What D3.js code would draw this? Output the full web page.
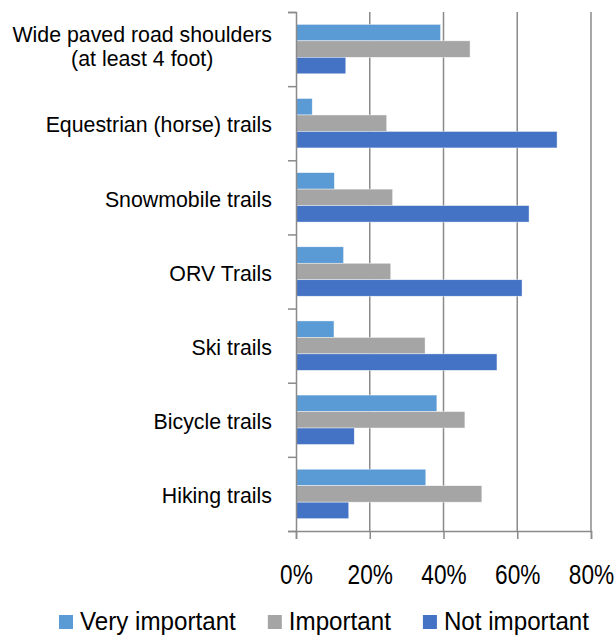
<html>
<head>
	<script src="https://d3js.org/d3.v7.min.js" charset="utf-8"></script>
	<style type="text/css">
		body { margin: 0; background: #fff; }
		text { font-family: "Liberation Sans", Arial, sans-serif; fill: #000; }
	</style>
</head>
<body>
	<div id="chart"></div>
	<script>
		var categories = ["Wide paved road shoulders|(at least 4 foot)", "Equestrian (horse) trails", "Snowmobile trails",
			"ORV Trails", "Ski trails", "Bicycle trails", "Hiking trails"];
		var seriesNames = ["Very important", "Important", "Not important"];
		var veryImportant = [39.2, 4.4, 10.4, 12.9, 10.3, 38.2, 35.2];
		var important = [47.2, 24.6, 26.2, 25.7, 35.0, 45.8, 50.4];
		var notImportant = [13.5, 70.8, 63.2, 61.3, 54.5, 15.8, 14.3];
		var tickValues = [0, 20, 40, 60, 80];
		var colors = ["#5b9bd5", "#a5a5a5", "#4472c4"];

		var series = [veryImportant, important, notImportant];

		var margin = { top: 12, left: 296, right: 24, bottom: 105 };
		var width = 615 - margin.left - margin.right;
		var height = 636 - margin.top - margin.bottom;

		var svg = d3.select('#chart').append('svg')
			.attr('width', 615)
			.attr('height', 636);

		var g = svg.append('g')
			.attr('transform', 'translate(' + margin.left + ',' + margin.top + ')');

		// scales
		var xScale = d3.scaleLinear().domain([0, 80]).range([0, width]);
		var yScale = d3.scaleBand().domain(d3.range(categories.length)).range([0, height]);
		var barH = yScale.bandwidth() / 4.5;
		var inner = d3.scaleBand().domain(d3.range(series.length))
			.range([barH * 0.75, barH * 3.75]);

		// gridlines
		g.selectAll('.grid').data(tickValues.slice(1)).enter().append('line')
			.attr('x1', function(d){ return xScale(d); })
			.attr('x2', function(d){ return xScale(d); })
			.attr('y1', 0).attr('y2', height)
			.style('stroke', '#8a8a8a').style('stroke-width', 1.5);

		// bars
		series.forEach(function(vals, s){
			g.selectAll('.bar' + s).data(vals).enter().append('rect')
				.attr('x', 0)
				.attr('y', function(d, i){ return yScale(i) + inner(s); })
				.attr('width', function(d){ return xScale(d); })
				.attr('height', inner.bandwidth())
				.style('fill', colors[s])
				.style('stroke', '#ffffff').style('stroke-width', 0.6).style('stroke-opacity', 0.7);
		});

		// x axis
		var xAxis = d3.axisBottom(xScale)
			.tickValues(tickValues)
			.tickSize(8)
			.tickPadding(26)
			.tickFormat(function(d){ return d + '%'; });
		var xGuide = g.append('g').attr('transform', 'translate(0,' + height + ')').call(xAxis);
		xGuide.select('.domain').style('stroke', '#8a8a8a').style('stroke-width', 1.5);
		xGuide.selectAll('line').style('stroke', '#8a8a8a').style('stroke-width', 1.5);
		xGuide.selectAll('text')
			.style('font-size', '27px')
			.style('font-family', '"Liberation Sans", Arial, sans-serif')
			.style('fill', '#000')
			.attr('transform', 'scale(0.84,1)');

		// y axis with ticks at band boundaries
		var yAxisLine = d3.scaleLinear().domain([0, categories.length]).range([0, height]);
		var yGuide = g.append('g').call(d3.axisLeft(yAxisLine).ticks(categories.length).tickSize(8).tickFormat(''));
		yGuide.select('.domain').style('stroke', '#8a8a8a').style('stroke-width', 1.5);
		yGuide.selectAll('line').style('stroke', '#8a8a8a').style('stroke-width', 1.5);

		// category labels
		var labelRight = -24;
		categories.forEach(function(c, i){
			var lines = c.split('|');
			var cy = yScale(i) + yScale.bandwidth() / 2;
			var t = g.append('text')
				.style('font-size', '22px')
				.attr('transform', 'translate(' + labelRight + ',0) scale(0.97,1)');
			if (lines.length === 1) {
				t.attr('text-anchor', 'end').attr('y', cy).attr('dy', '0.42em').text(lines[0]);
			} else {
				var tmp = t.append('tspan').text(lines[0]);
				var w = tmp.node().getComputedTextLength();
				tmp.remove();
				t.attr('text-anchor', 'middle');
				lines.forEach(function(l, k){
					t.append('tspan').attr('x', -w / 2)
						.attr('y', cy - 7 + k * 24)
						.text(l);
				});
			}
		});

		// legend
		var legend = svg.append('g').attr('transform', 'translate(59,615)');
		var lx = 0;
		seriesNames.forEach(function(name, s){
			var item = legend.append('g').attr('transform', 'translate(' + lx + ',0)');
			item.append('rect').attr('width', 14).attr('height', 14).style('fill', colors[s]);
			var txt = item.append('text')
				.attr('x', 21 / 0.93).attr('y', 15)
				.attr('transform', 'scale(0.93,1)')
				.style('font-size', '26px')
				.text(name);
			lx += 21 + txt.node().getComputedTextLength() * 0.93 + 32;
		});
	</script>
</body>
</html>
